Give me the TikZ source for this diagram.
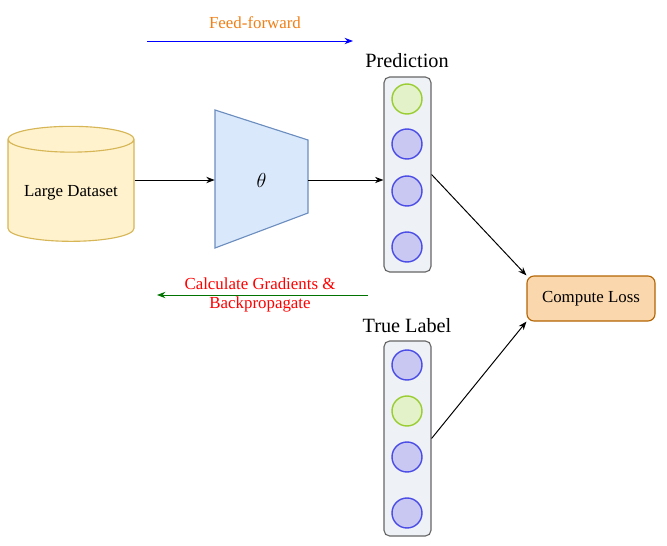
\documentclass[tikz,border=0pt]{standalone}
\usepackage{fontspec}
\setmainfont{Liberation Serif}
\usetikzlibrary{shapes.geometric, arrows.meta, positioning}
\definecolor{dataFill}{HTML}{FFF2CC}
\definecolor{dataDraw}{HTML}{D6B656}
\definecolor{netFill}{HTML}{DAE8FC}
\definecolor{netDraw}{HTML}{6C8EBF}
\definecolor{lossFill}{HTML}{FAD7AC}
\definecolor{lossDraw}{HTML}{B46504}
\definecolor{colFill}{HTML}{EEF2F6}
\definecolor{hotFill}{HTML}{E3F2C8}
\definecolor{hotDraw}{HTML}{9ACD32}
\definecolor{coldFill}{HTML}{C8C8F2}
\definecolor{coldDraw}{HTML}{4B4BE6}
\definecolor{ffText}{HTML}{F07F16}
\begin{document}
\begin{tikzpicture}[x=0.025cm, y=-0.025cm,
    column/.style={rectangle, rounded corners=4pt, draw=gray!80!black, fill=colFill, line width=0.8pt,
                   minimum width=47*0.025cm, minimum height=195*0.025cm},
    cold/.style={circle, draw=coldDraw, fill=coldFill, line width=1pt, minimum size=30*0.025cm, inner sep=0pt},
    hot/.style={circle, draw=hotDraw, fill=hotFill, line width=1pt, minimum size=30*0.025cm, inner sep=0pt},
    link/.style={-{Stealth[length=6pt]}, line width=0.7pt}]
    \useasboundingbox (0,0) rectangle (667,546);

    % Dataset
    \node[cylinder, shape border rotate=90, aspect=0.25, draw=dataDraw, fill=dataFill, line width=0.8pt,
          minimum width=126*0.025cm, minimum height=115*0.025cm, font=\large] (data) at (71,193) {Large Dataset};

    % Model
    \draw[draw=netDraw, fill=netFill, line width=0.8pt] (215,110) -- (308,140) -- (308,213) -- (215,248) -- cycle;
    \node[minimum width=93*0.025cm, minimum height=73*0.025cm, inner sep=0pt, font=\Large] (model) at (261.5,180) {$\theta$};

    % Prediction
    \node[column] (pred) at (407.5,174.5) {};
    \node[font=\Large] (predlbl) at (407,61) {Prediction};
    \node[hot] (p1) at (407,99) {};
    \node[cold] (p2) at (407,144) {};
    \node[cold] (p3) at (407,191) {};
    \node[cold] (p4) at (407,247) {};

    % True label
    \node[column] (truth) at (407.5,438.5) {};
    \node[font=\Large] (truthlbl) at (407,326) {True Label};
    \node[cold] (t1) at (407,365) {};
    \node[hot] (t2) at (407,411) {};
    \node[cold] (t3) at (407,457) {};
    \node[cold] (t4) at (407,513) {};

    % Loss
    \node[rectangle, rounded corners=5pt, draw=lossDraw, fill=lossFill, line width=0.8pt,
          minimum width=128*0.025cm, minimum height=45*0.025cm, font=\large] (loss) at (591,298.5) {Compute Loss};

    % Arrows
    \draw[link] (data.east |- model) -- (model.west);
    \draw[link] (model.east) -- (pred.west |- model);
    \draw[link] (pred.east) -- (loss.north west);
    \draw[link] (truth.east) -- (loss.south west);

    % Direction labels
    \coordinate (ffa) at (147,41);
    \coordinate (ffb) at (353,41);
    \draw[link, draw=blue] (ffa) -- (ffb);
    \node[text=ffText, font=\large] (fflbl) at (255,23) {Feed-forward};
    \coordinate (bpa) at (368,295);
    \coordinate (bpb) at (157,295);
    \draw[link, draw=green!45!black] (bpa) -- (bpb);
    \node[text=red, font=\large, align=center] (bplbl) at (260,295) {Calculate Gradients \&\\Backpropagate};
\end{tikzpicture}
\end{document}
